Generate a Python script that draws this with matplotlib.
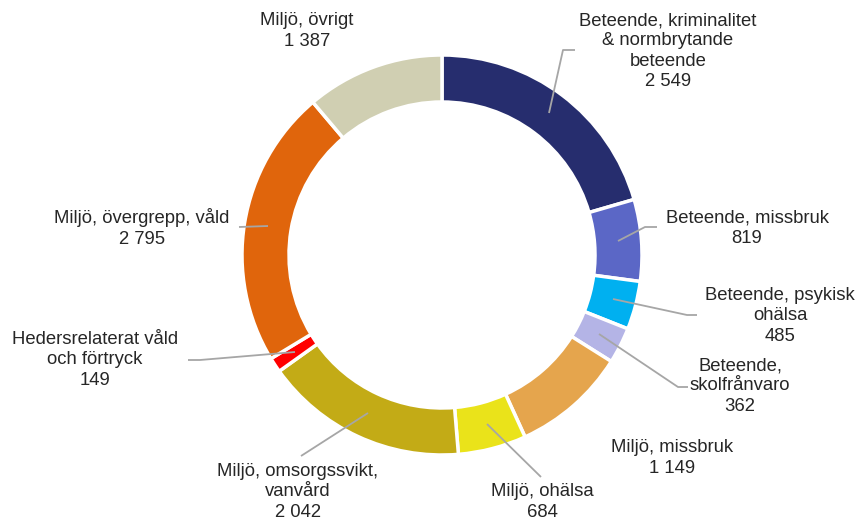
import matplotlib.pyplot as plt

plt.rcParams['font.family'] = ['Liberation Sans', 'DejaVu Sans']

# data, clockwise from 12 o'clock
labels = ['Beteende, kriminalitet\n& normbrytande\nbeteende',
          'Beteende, missbruk',
          'Beteende, psykisk\nohälsa',
          'Beteende,\nskolfrånvaro',
          'Miljö, missbruk',
          'Miljö, ohälsa',
          'Miljö, omsorgssvikt,\nvanvård',
          'Hedersrelaterat våld\noch förtryck',
          'Miljö, övergrepp, våld',
          'Miljö, övrigt']
values = [2549, 819, 485, 362, 1149, 684, 2042, 149, 2795, 1387]
colors = ['#262D6E', '#5B67C6', '#00B0F0', '#B4B4E6', '#E5A54D',
          '#EAE31A', '#C3AB16', '#FF0000', '#E0650C', '#D0CFB2']

# layout in pixels (text centre, leader line points)
W, H = 859, 525
CX, CY, R = 442, 255, 200
text_pos = [(668, 51), (747, 228), (780, 316), (740, 386), (672, 458),
            (542, 502), (298, 492), (95, 360), (142, 228), (307, 31)]
leaders = [[(549, 113), (563, 50), (575, 50)],
           [(618, 241), (645, 227), (657, 227)],
           [(613, 299), (687, 315), (697, 315)],
           [(599, 334), (678, 387), (688, 387)],
           None,
           [(487, 424), (541, 477)],
           [(368, 413), (301, 456)],
           [(295, 352), (200, 360), (188, 360)],
           [(268, 226), (239, 227)],
           None]


def px(p):
    return (p[0] - CX) / R, (CY - p[1]) / R


def fmt(v):
    return f'{v:,}'.replace(',', ' ')


fig = plt.figure(figsize=(W / 100, H / 100), dpi=100)
ax = fig.add_axes([0, 0, 1, 1])
ax.pie(values, colors=colors, startangle=90, counterclock=False, radius=1,
       wedgeprops=dict(width=0.235, edgecolor='white', linewidth=2.5))
ax.set_xlim(-CX / R, (W - CX) / R)
ax.set_ylim(-(H - CY) / R, CY / R)
ax.axis('off')

for lab, v, tp, ld in zip(labels, values, text_pos, leaders):
    x, y = px(tp)
    ax.text(x, y, lab + '\n' + fmt(v), ha='center', va='center',
            fontsize=13.3, color='#262626', linespacing=1.25)
    if ld:
        pts = [px(p) for p in ld]
        ax.plot([p[0] for p in pts], [p[1] for p in pts],
                color='#A6A6A6', lw=1.3, solid_capstyle='butt')

fig.savefig('out.png', dpi=100)
